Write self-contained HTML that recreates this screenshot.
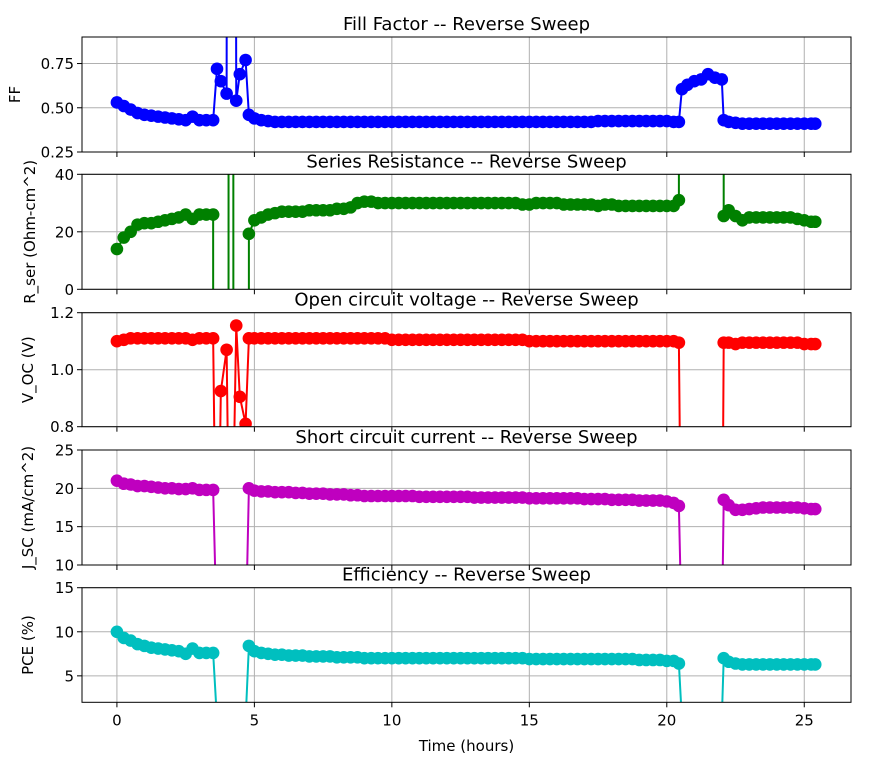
<!DOCTYPE html>
<html><head><meta charset="utf-8"><style>
html,body{margin:0;padding:0;background:#fff;width:870px;height:757px;overflow:hidden;}
svg{display:block;font-family:"DejaVu Sans","Liberation Sans",sans-serif;}
</style></head><body>
<svg id="fig" width="870" height="757"></svg>
<script>
const times=[0,0.25,0.5,0.75,1,1.25,1.5,1.75,2,2.25,2.5,2.75,3,3.25,3.5,
3.64,3.78,3.99,4.13,4.34,4.47,4.68,
4.8,5,5.25,5.5,5.75,6,6.25,6.5,6.75,7,7.25,7.5,7.75,8,8.25,8.5,8.75,9,9.25,9.5,9.75,10,10.25,10.5,10.75,11,11.25,11.5,11.75,12,12.25,12.5,12.75,13,13.25,13.5,13.75,14,14.25,14.5,14.75,15,15.25,15.5,15.75,16,16.25,16.5,16.75,17,17.25,17.5,17.75,18,18.25,18.5,18.75,19,19.25,19.5,19.75,20,20.25,20.44,
20.55,20.75,21,21.25,21.5,21.75,22,
22.07,22.25,22.5,22.75,23,23.25,23.5,23.75,24,24.25,24.5,24.75,25,25.25,25.4];
const ffValues=[0.53,0.51,0.49,0.47,0.46,0.455,0.45,0.445,0.44,0.435,0.43,0.45,0.43,0.43,0.43,
0.72,0.65,0.58,20,0.54,0.69,0.77,
0.46,0.44,0.43,0.425,0.42,0.42,0.42,0.42,0.42,0.42,0.42,0.42,0.42,0.42,0.42,0.42,0.42,0.42,0.42,0.42,0.42,0.42,0.42,0.42,0.42,0.42,0.42,0.42,0.42,0.42,0.42,0.42,0.42,0.42,0.42,0.42,0.42,0.42,0.42,0.42,0.42,0.42,0.42,0.42,0.42,0.42,0.42,0.42,0.42,0.42,0.42,0.425,0.425,0.425,0.425,0.425,0.425,0.425,0.425,0.425,0.425,0.425,0.42,0.42,
0.605,0.63,0.65,0.66,0.69,0.67,0.66,
0.43,0.42,0.415,0.41,0.41,0.41,0.41,0.41,0.41,0.41,0.41,0.41,0.41,0.41,0.41];
const rserValues=[14,18,20,22.5,23,23,23.5,24,24.5,25,26,24.5,26,26,26,
-1e4,-1e4,-1e4,1e4,-1e4,-1e4,-1e4,
19.3,24,25,26,26.5,27,27,27,27,27.5,27.5,27.5,27.5,28,28,28.5,30,30.5,30.5,30,30,30,30,30,30,30,30,30,30,30,30,30,30,30,30,30,30,30,30,30,29.5,29.5,30,30,30,30,29.5,29.5,29.5,29.5,29.5,29,29.5,29.5,29,29,29,29,29,29,29,29,29,31,
1e4,1e4,1e4,1e4,1e4,1e4,1e4,
25.5,27.5,25.5,24,25,25,25,25,25,25,25,24.5,24,23.5,23.5];
const vocValues=[1.1,1.105,1.11,1.11,1.11,1.11,1.11,1.11,1.11,1.11,1.11,1.105,1.11,1.11,1.11,
0,0.925,1.07,0,1.155,0.905,0.81,
1.11,1.11,1.11,1.11,1.11,1.11,1.11,1.11,1.11,1.11,1.11,1.11,1.11,1.11,1.11,1.11,1.11,1.11,1.11,1.11,1.11,1.105,1.105,1.105,1.105,1.105,1.105,1.105,1.105,1.105,1.105,1.105,1.105,1.105,1.105,1.105,1.105,1.105,1.105,1.105,1.105,1.1,1.1,1.1,1.1,1.1,1.1,1.1,1.1,1.1,1.1,1.1,1.1,1.1,1.1,1.1,1.1,1.1,1.1,1.1,1.1,1.1,1.1,1.095,
0,0,0,0,0,0,0,
1.095,1.095,1.09,1.095,1.095,1.095,1.095,1.095,1.095,1.095,1.095,1.095,1.09,1.09,1.09];
const jscValues=[21,20.6,20.5,20.3,20.3,20.2,20.1,20,20,19.9,19.9,20,19.8,19.8,19.8,
0,0,0,0,0,0,0,
20,19.7,19.6,19.6,19.5,19.5,19.5,19.4,19.4,19.3,19.3,19.3,19.2,19.2,19.2,19.1,19.1,19,19,19,19,19,19,19,19,18.9,18.9,18.9,18.9,18.9,18.9,18.9,18.9,18.8,18.8,18.8,18.8,18.8,18.8,18.8,18.8,18.7,18.7,18.7,18.7,18.7,18.7,18.7,18.7,18.6,18.6,18.6,18.6,18.5,18.5,18.5,18.5,18.4,18.4,18.4,18.4,18.3,18.1,17.7,
0,0,0,0,0,0,0,
18.5,17.8,17.2,17.2,17.3,17.4,17.5,17.5,17.5,17.5,17.5,17.5,17.4,17.3,17.3];
const pceValues=[10,9.3,9,8.6,8.4,8.2,8.1,8,7.9,7.8,7.5,8.1,7.6,7.6,7.6,
0,0,0,0,0,0,0,
8.4,7.8,7.6,7.5,7.4,7.4,7.3,7.3,7.3,7.2,7.2,7.2,7.2,7.1,7.1,7.1,7.1,7,7,7,7,7,7,7,7,7,7,7,7,7,7,7,7,7,7,7,7,7,7,7,7,6.9,6.9,6.9,6.9,6.9,6.9,6.9,6.9,6.9,6.9,6.9,6.9,6.9,6.9,6.9,6.9,6.8,6.8,6.8,6.8,6.7,6.7,6.4,
0,0,0,0,0,0,0,
7,6.6,6.4,6.3,6.3,6.3,6.3,6.3,6.3,6.3,6.3,6.3,6.3,6.3,6.3];
const xTicks=[0,5,10,15,20,25];
const panelTitles=["Fill Factor -- Reverse Sweep","Series Resistance -- Reverse Sweep","Open circuit voltage -- Reverse Sweep","Short circuit current -- Reverse Sweep","Efficiency -- Reverse Sweep"];
const yLabels=["FF","R_ser (Ohm-cm^2)","V_OC (V)","J_SC (mA/cm^2)","PCE (%)"];
const yTicks=[[0.25,0.5,0.75],[0,20,40],[0.8,1.0,1.2],[10,15,20,25],[5,10,15]];
const yTickLabels=[["0.25","0.50","0.75"],["0","20","40"],["0.8","1.0","1.2"],["10","15","20","25"],["5","10","15"]];
const yRanges=[[0.25,0.9],[0,40],[0.8,1.2],[10,25],[2,15]];
const series=[ffValues,rserValues,vocValues,jscValues,pceValues];
const colors=["#0000ff","#008000","#ff0000","#bf00bf","#00bfbf"];
const names=["ff","rser","voc","jsc","pce"];
const panelTop=[37,174.3,312.7,450,587.7];
const panelH=[115,115,114,115,114.6];
const L=82,R=851,X0=-1.27,X1=26.7;
const NS="http://www.w3.org/2000/svg";
const svg=document.getElementById('fig');
function mk(tag,attrs,parent){const e=document.createElementNS(NS,tag);for(const k in attrs)e.setAttribute(k,attrs[k]);(parent||svg).appendChild(e);return e;}
function xs(v){return L+(v-X0)/(X1-X0)*(R-L);}
for(let p=0;p<5;p++){
  const top=panelTop[p],h=panelH[p],bot=top+h,[y0,y1]=yRanges[p];
  const ys=v=>bot-(v-y0)/(y1-y0)*h;
  const g=mk('g',{});
  
  
  const cp=mk('clipPath',{id:'c'+p},g);mk('rect',{x:L,y:top,width:R-L,height:h},cp);
  xTicks.forEach(t=>{const l=mk('line',{x1:xs(t),x2:xs(t),y1:top,y2:bot,stroke:'#b0b0b0','stroke-width':1},g);
    
    mk('line',{x1:xs(t),x2:xs(t),y1:bot,y2:bot+5,stroke:'#000','stroke-width':1},g);
    if(p===4){const tx=mk('text',{x:xs(t),y:bot+23,'text-anchor':'middle','font-size':15},g);tx.textContent=t;
      }});
  yTicks[p].forEach((t,i)=>{const y=ys(t);
    const l=mk('line',{x1:L,x2:R,y1:y,y2:y,stroke:'#b0b0b0','stroke-width':1},g);
    
    mk('line',{x1:L-5,x2:L,y1:y,y2:y,stroke:'#000','stroke-width':1},g);
    const tx=mk('text',{x:L-8,y:y+5.5,'text-anchor':'end','font-size':15},g);tx.textContent=yTickLabels[p][i];
    });
  const dg=mk('g',{'clip-path':'url(#c'+p+')'},g);
  const vals=series[p];
  const pts=times.map((t,i)=>xs(t).toFixed(2)+','+ys(vals[i]).toFixed(2)).join(' ');
  const pl=mk('polyline',{points:pts,fill:'none',stroke:colors[p],'stroke-width':2},dg);
  
  times.forEach((t,i)=>{const c=mk('circle',{cx:xs(t),cy:ys(vals[i]),r:6.3,fill:colors[p]},dg);
    });
  const fr=mk('rect',{x:L,y:top,width:R-L,height:h,fill:'none',stroke:'#000','stroke-width':1},g);
  
  const ti=mk('text',{x:(L+R)/2,y:top-7,'text-anchor':'middle','font-size':18},g);ti.textContent=panelTitles[p];
  
  const lx=p===0?20:(p===1?35:33);
  const yl=mk('text',{x:lx,y:top+h/2,'text-anchor':'middle','font-size':15,transform:'rotate(-90 '+lx+' '+(top+h/2)+')'},g);yl.textContent=yLabels[p];
  
}
const xl=mk('text',{x:(L+R)/2,y:751,'text-anchor':'middle','font-size':15});xl.textContent='Time (hours)';


</script>
</body></html>
